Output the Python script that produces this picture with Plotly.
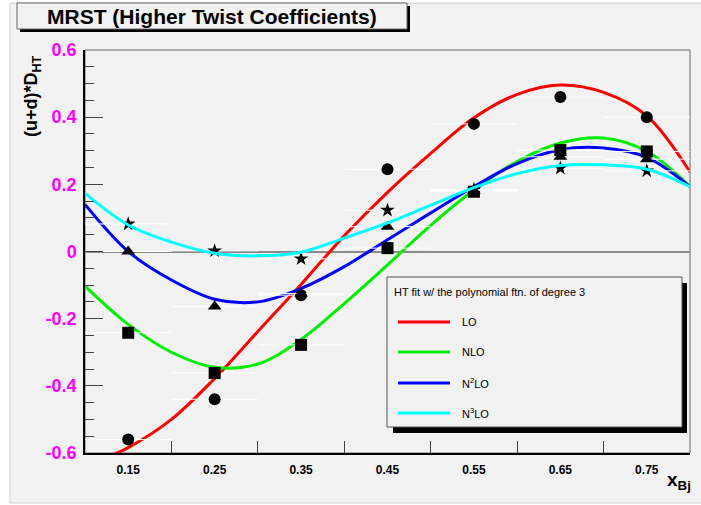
import plotly.graph_objects as go

# ---------------- data ----------------
x_pts = [0.15, 0.25, 0.35, 0.45, 0.55, 0.65, 0.75]
lo_pts = [-0.56, -0.44, -0.13, 0.245, 0.38, 0.46, 0.40]
nlo_pts = [-0.242, -0.362, -0.278, 0.01, 0.178, 0.302, 0.298]
n2lo_pts = [0.0, -0.164, -0.125, 0.074, 0.182, 0.282, 0.275]
n3lo_pts = [0.082, 0.002, -0.022, 0.123, 0.185, 0.248, 0.24]

x_fit = [0.10, 0.15, 0.20, 0.25, 0.30, 0.35, 0.40, 0.45, 0.50, 0.55, 0.60, 0.65, 0.70, 0.75, 0.80]
lo_fit = [-0.64, -0.584, -0.500, -0.378, -0.238, -0.098, 0.047, 0.176, 0.292, 0.398, 0.468, 0.496, 0.474, 0.404, 0.237]
nlo_fit = [-0.103, -0.217, -0.300, -0.345, -0.335, -0.262, -0.155, -0.040, 0.078, 0.183, 0.268, 0.323, 0.338, 0.298, 0.193]
n2lo_fit = [0.14, 0.0, -0.085, -0.142, -0.150, -0.11, -0.045, 0.035, 0.115, 0.193, 0.262, 0.303, 0.308, 0.28, 0.193]
n3lo_fit = [0.173, 0.079, 0.028, -0.005, -0.013, -0.002, 0.04, 0.085, 0.138, 0.19, 0.232, 0.256, 0.258, 0.245, 0.193]

x_labels = ["0.15", "0.25", "0.35", "0.45", "0.55", "0.65", "0.75"]
x_minor = [0.2, 0.3, 0.4, 0.5, 0.6, 0.7]
y_major = [-0.6, -0.4, -0.2, 0, 0.2, 0.4, 0.6]
y_labels = ["-0.6", "-0.4", "-0.2", "0", "0.2", "0.4", "0.6"]
y_minor = [round(-0.6 + 0.05 * i, 2) for i in range(25)]

series_names = ["LO", "NLO", "N<sup>2</sup>LO", "N<sup>3</sup>LO"]
series_colors = ["#ff0000", "#00ee00", "#0000ff", "#00ffff"]
series_symbols = ["circle", "square", "triangle-up", "star"]
series_sizes = [12, 12, 12, 11]

title_text = "MRST (Higher Twist Coefficients)"
legend_header = "HT fit w/ the polynomial ftn. of degree 3"

FONT = "Liberation Sans, Arial, sans-serif"
BG = "#f2f2f2"

W, H = 701, 505
L, R, T, B = 85, 690, 50, 453


def px(xp):
    return (xp - L) / (R - L)


def py(yp):
    return (B - yp) / (B - T)


fig = go.Figure()

fits = [lo_fit, nlo_fit, n2lo_fit, n3lo_fit]
pts = [lo_pts, nlo_pts, n2lo_pts, n3lo_pts]

# fit curves for LO, NLO, N2LO
for i in range(3):
    fig.add_trace(go.Scatter(x=x_fit, y=fits[i], mode="lines",
                             line=dict(color=series_colors[i], width=3, shape="spline"),
                             showlegend=False, hoverinfo="skip"))

# data points
for i in range(4):
    fig.add_trace(go.Scatter(x=x_pts, y=pts[i], mode="markers",
                             marker=dict(symbol=series_symbols[i], size=series_sizes[i],
                                         color="black", line=dict(width=0)),
                             error_x=dict(type="constant", value=0.05, color="white",
                                          thickness=1, width=0),
                             showlegend=False))

# N3LO curve on top
fig.add_trace(go.Scatter(x=x_fit, y=fits[3], mode="lines",
                         line=dict(color=series_colors[3], width=3, shape="spline"),
                         showlegend=False, hoverinfo="skip"))

shapes = []
# canvas background
shapes.append(dict(type="rect", xref="paper", yref="paper", layer="below",
                   x0=px(10), x1=px(703), y0=py(3), y1=py(503),
                   fillcolor=BG, line=dict(color="#d0d0d0", width=1)))
# frame
shapes.append(dict(type="rect", xref="paper", yref="paper", layer="below",
                   x0=0, x1=1, y0=0, y1=1, line=dict(color="#666666", width=1)))
# title box shadow + box
shapes.append(dict(type="rect", xref="paper", yref="paper",
                   x0=px(20), x1=px(410), y0=py(6), y1=py(32),
                   fillcolor="black", line=dict(width=0)))
shapes.append(dict(type="rect", xref="paper", yref="paper",
                   x0=px(17), x1=px(407), y0=py(3), y1=py(29),
                   fillcolor=BG, line=dict(color="#666666", width=1)))
# legend shadow + box
shapes.append(dict(type="rect", xref="paper", yref="paper",
                   x0=px(393), x1=px(687), y0=py(283), y1=py(433),
                   fillcolor="black", line=dict(width=0)))
shapes.append(dict(type="rect", xref="paper", yref="paper",
                   x0=px(387), x1=px(682), y0=py(277), y1=py(427),
                   fillcolor=BG, line=dict(color="#555555", width=1)))

annotations = []
entry_y = [322, 352, 383, 413]
for i in range(4):
    shapes.append(dict(type="line", xref="paper", yref="paper",
                       x0=px(398), x1=px(450), y0=py(entry_y[i]), y1=py(entry_y[i]),
                       line=dict(color=series_colors[i], width=3)))
    annotations.append(dict(xref="paper", yref="paper", x=px(460), y=py(entry_y[i]),
                            text=series_names[i], showarrow=False, xanchor="left",
                            yanchor="middle", font=dict(family=FONT, size=11, color="black")))

annotations.append(dict(xref="paper", yref="paper", x=px(392), y=py(292),
                        text=legend_header, showarrow=False, xanchor="left", yanchor="middle",
                        font=dict(family=FONT, size=11, color="black")))
annotations.append(dict(xref="paper", yref="paper", x=px(212), y=py(16.5),
                        text="<b>" + title_text + "</b>", showarrow=False,
                        xanchor="center", yanchor="middle",
                        font=dict(family=FONT, size=21, color="black")))
annotations.append(dict(xref="paper", yref="paper", x=px(33), y=py(53),
                        text="<b>(u+d)*D<sub>HT</sub></b>", showarrow=False, textangle=-90,
                        xanchor="center", yanchor="top",
                        font=dict(family=FONT, size=18, color="black")))
annotations.append(dict(xref="paper", yref="paper", x=px(679), y=py(481),
                        text="<b>x<sub>Bj</sub></b>", showarrow=False,
                        xanchor="center", yanchor="middle",
                        font=dict(family=FONT, size=19, color="black")))

fig.update_layout(
    width=W, height=H,
    margin=dict(l=L, r=W - R, t=T, b=H - B),
    paper_bgcolor="white", plot_bgcolor=BG,
    showlegend=False,
    shapes=shapes, annotations=annotations,
    xaxis=dict(range=[0.1, 0.8], showgrid=False, zeroline=False,
               tickmode="array", tickvals=x_pts,
               ticktext=["<b>" + t + "</b>" for t in x_labels],
               ticks="inside", ticklen=0, ticklabelstandoff=5,
               tickfont=dict(family=FONT, size=12, color="black"),
               minor=dict(tickmode="array", tickvals=x_minor, ticks="inside",
                          ticklen=12, tickcolor="#444444", tickwidth=1, showgrid=False),
               showline=True, linecolor="black", linewidth=1.5),
    yaxis=dict(range=[-0.6, 0.6], showgrid=False,
               zeroline=True, zerolinecolor="#8a8a8a", zerolinewidth=1.5,
               tickmode="array", tickvals=y_major,
               ticktext=["<b>" + t + "</b>" for t in y_labels],
               ticks="inside", ticklen=18, tickcolor="#444444", tickwidth=1,
               ticklabelstandoff=3,
               tickfont=dict(family=FONT, size=18, color="#ff00ff"),
               minor=dict(tickmode="array", tickvals=y_minor, ticks="inside",
                          ticklen=9, tickcolor="#444444", tickwidth=1, showgrid=False),
               showline=True, linecolor="black", linewidth=1.5),
)

fig.write_html("out.html")
